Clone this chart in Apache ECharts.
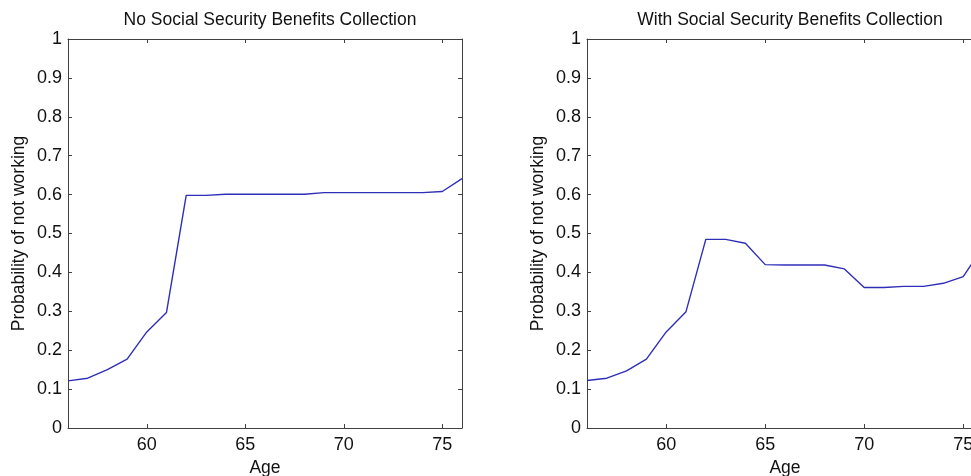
<!DOCTYPE html>
<html>
<head>
<meta charset="utf-8">
<script src="https://cdn.jsdelivr.net/npm/echarts@6/dist/echarts.min.js"></script>
<style>html,body{margin:0;padding:0;background:#fff;}#c{width:971px;height:476px;}</style>
</head>
<body>
<div id="c"></div>
<script>
const ages = [56,57,58,59,60,61,62,63,64,65,66,67,68,69,70,71,72,73,74,75,76];
const noSS = [0.121,0.128,0.15,0.177,0.247,0.297,0.598,0.598,0.601,0.601,0.601,0.601,0.601,0.605,0.605,0.605,0.605,0.605,0.605,0.608,0.641];
const withSS = [0.122,0.128,0.147,0.177,0.247,0.299,0.485,0.485,0.475,0.42,0.419,0.419,0.419,0.409,0.361,0.361,0.364,0.364,0.372,0.389,0.465];
const xTicks = [60,65,70,75];
const xMin = 56;
const xMax = 76;
const titles = ['No Social Security Benefits Collection','With Social Security Benefits Collection'];
const yName = 'Probability of not working';
const xName = 'Age';

const FONT = 'Liberation Sans, Arial, sans-serif';
const AX = '#404040';
const grids = [
  {left:68, top:39, width:394, height:389, outerBoundsMode:'none', containLabel:false},
  {left:587, top:39, width:396, height:389, outerBoundsMode:'none', containLabel:false}
];
const series = [noSS, withSS];

const opt = {backgroundColor:'#fff', animation:false, title:[], grid:grids, xAxis:[], yAxis:[], series:[]};
grids.forEach((g,i)=>{
  opt.title.push({text:titles[i], left:g.left+g.width/2, top:6, textAlign:'center',
    textStyle:{fontFamily:FONT,fontSize:17.5,fontWeight:'normal',color:'#111'}});
  const xBase = {type:'value', gridIndex:i, min:xMin, max:xMax, splitLine:{show:false},
    axisLine:{show:true,onZero:false,lineStyle:{color:AX,width:1}},
    axisTick:{show:true,inside:true,length:4,customValues:xTicks,lineStyle:{color:AX}}};
  opt.xAxis.push(Object.assign({}, xBase, {position:'bottom',
    name:xName, nameLocation:'middle', nameGap:29,
    nameTextStyle:{fontFamily:FONT,fontSize:17.5,color:'#111'},
    axisLabel:{customValues:xTicks, fontFamily:FONT, fontSize:18, color:'#111', margin:8}}));
  opt.xAxis.push(Object.assign({}, xBase, {position:'top', axisLabel:{show:false}}));
  const yBase = {type:'value', gridIndex:i, min:0, max:1, interval:0.1, splitLine:{show:false},
    axisLine:{show:true,onZero:false,lineStyle:{color:AX,width:1}},
    axisTick:{show:true,inside:true,length:4,lineStyle:{color:AX}}};
  opt.yAxis.push(Object.assign({}, yBase, {position:'left',
    name:yName, nameLocation:'middle', nameGap:40, nameRotate:90,
    nameTextStyle:{fontFamily:FONT,fontSize:17.5,color:'#111'},
    axisLabel:{fontFamily:FONT,fontSize:18,color:'#111',margin:6}}));
  opt.yAxis.push(Object.assign({}, yBase, {position:'right', axisLabel:{show:false}}));
  opt.series.push({type:'line', xAxisIndex:i*2, yAxisIndex:i*2, showSymbol:false, symbol:'none',
    clip:true, lineStyle:{color:'#2e2eb8', width:1.4},
    data: ages.map((a,k)=>[a, series[i][k]])});
});
const chart = echarts.init(document.getElementById('c'), null, {renderer:'canvas'});
chart.setOption(opt);
</script>
</body>
</html>
